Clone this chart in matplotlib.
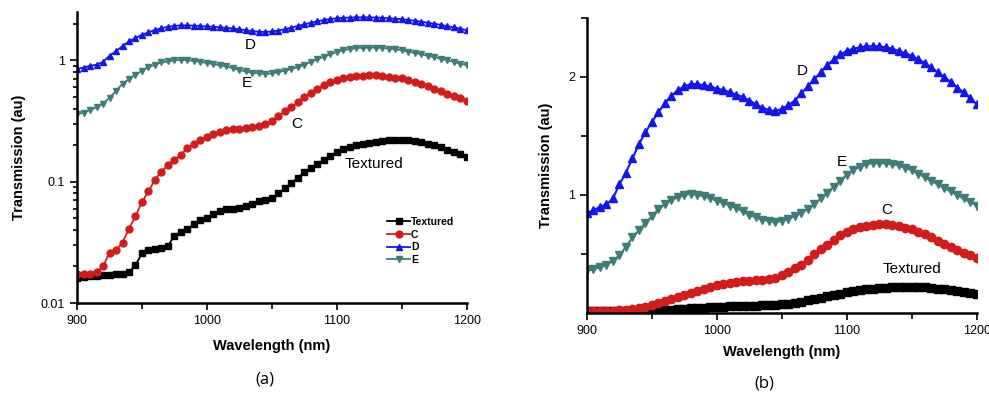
import numpy as np
import matplotlib
matplotlib.use('Agg')
import matplotlib.pyplot as plt
from matplotlib.ticker import FixedLocator, NullFormatter, LogLocator

plt.rcParams['font.family'] = ['Liberation Sans', 'DejaVu Sans']

wavelength = np.arange(900, 1201, 5)

textured = [0.0162, 0.0164, 0.0166, 0.0168, 0.0170, 0.0171, 0.0172, 0.0174, 0.0180, 0.0205,
            0.0257, 0.0273, 0.0278, 0.0282, 0.0296, 0.0360, 0.0386, 0.0405, 0.0450, 0.0485,
            0.0505, 0.0540, 0.0570, 0.0590, 0.0600, 0.0610, 0.0625, 0.0660, 0.0690, 0.0710,
            0.0730, 0.080, 0.088, 0.097, 0.108, 0.119, 0.130, 0.140, 0.151, 0.163,
            0.176, 0.185, 0.194, 0.200, 0.206, 0.210, 0.214, 0.218, 0.220, 0.222,
            0.222, 0.221, 0.217, 0.212, 0.206, 0.199, 0.192, 0.184, 0.176, 0.168,
            0.160]

sample_c = [0.0172, 0.0174, 0.0175, 0.0180, 0.0200, 0.0260, 0.0272, 0.0315, 0.041, 0.052,
            0.068, 0.083, 0.104, 0.121, 0.137, 0.152, 0.167, 0.190, 0.205, 0.221,
            0.235, 0.249, 0.258, 0.265, 0.270, 0.273, 0.277, 0.282, 0.287, 0.300,
            0.318, 0.345, 0.38, 0.41, 0.45, 0.50, 0.54, 0.58, 0.62, 0.66,
            0.69, 0.71, 0.73, 0.74, 0.745, 0.75, 0.75, 0.745, 0.735, 0.72,
            0.71, 0.69, 0.665, 0.64, 0.61, 0.585, 0.56, 0.53, 0.51, 0.49,
            0.465]

sample_d = [0.85, 0.87, 0.90, 0.92, 0.97, 1.09, 1.19, 1.31, 1.43, 1.53,
            1.62, 1.70, 1.78, 1.84, 1.89, 1.92, 1.94, 1.94, 1.93, 1.92,
            1.90, 1.89, 1.87, 1.85, 1.83, 1.80, 1.77, 1.74, 1.72, 1.71,
            1.73, 1.76, 1.80, 1.86, 1.92, 1.98, 2.04, 2.10, 2.15, 2.19,
            2.22, 2.24, 2.25, 2.26, 2.26, 2.26, 2.25, 2.24, 2.22, 2.20,
            2.18, 2.15, 2.12, 2.08, 2.04, 2.00, 1.96, 1.91, 1.87, 1.82,
            1.77]

sample_e = [0.36, 0.37, 0.39, 0.41, 0.44, 0.49, 0.56, 0.64, 0.70, 0.76,
            0.82, 0.88, 0.92, 0.96, 0.98, 1.00, 1.01, 1.00, 0.99, 0.97,
            0.95, 0.93, 0.91, 0.89, 0.86, 0.83, 0.81, 0.79, 0.78, 0.77,
            0.78, 0.80, 0.82, 0.85, 0.88, 0.92, 0.97, 1.02, 1.07, 1.12,
            1.17, 1.21, 1.24, 1.26, 1.27, 1.27, 1.27, 1.26, 1.25, 1.23,
            1.21, 1.18, 1.15, 1.12, 1.09, 1.06, 1.03, 1.00, 0.97, 0.94,
            0.91]

series = [
    ('Textured', textured, 'black', 's'),
    ('C', sample_c, '#d21c1c', 'o'),
    ('D', sample_d, '#1414f0', '^'),
    ('E', sample_e, '#3f7d79', 'v'),
]

# label positions (wavelength, value) for each panel
labels_a = {'D': (1033, 1.33), 'E': (1031, 0.646), 'C': (1069, 0.30), 'Textured': (1129, 0.139)}
labels_b = {'D': (1066, 2.05), 'E': (1096, 1.28), 'C': (1131, 0.87), 'Textured': (1150, 0.37)}

fig = plt.figure(figsize=(9.89, 4.07), dpi=100)
ax1 = fig.add_axes([0.0779, 0.2555, 0.394, 0.715])
ax2 = fig.add_axes([0.5935, 0.231, 0.394, 0.725])


def style_axes(ax, xpad):
    for side in ('top', 'right'):
        ax.spines[side].set_visible(False)
    for side in ('left', 'bottom'):
        ax.spines[side].set_linewidth(1.8)
    ax.set_xlim(900, 1200)
    ax.xaxis.set_major_locator(FixedLocator([900, 1000, 1100, 1200]))
    ax.xaxis.set_minor_locator(FixedLocator([950, 1050, 1150]))
    ax.tick_params(which='both', direction='out', width=1.2, labelsize=9)
    ax.tick_params(which='major', length=5)
    ax.tick_params(which='minor', length=4)
    ax.set_xlabel('Wavelength (nm)', fontsize=10.5, fontweight='bold', labelpad=xpad)
    ax.set_ylabel('Transmission (au)', fontsize=10.5, fontweight='bold', labelpad=11)


# (a) log scale
for name, vals, color, marker in series:
    ax1.plot(wavelength, vals, color=color, marker=marker, markersize=5, lw=1.3, label=name)
ax1.set_yscale('log')
ax1.set_ylim(0.01, 2.5)
ax1.yaxis.set_major_locator(FixedLocator([0.01, 0.1, 1]))
ax1.yaxis.set_major_formatter(plt.FixedFormatter(['0.01', '0.1', '1']))
ax1.yaxis.set_minor_locator(LogLocator(base=10, subs=np.arange(2, 10)))
ax1.yaxis.set_minor_formatter(NullFormatter())
style_axes(ax1, 9)
ax1.tick_params(axis='y', which='minor', length=3)
for name, (x, y) in labels_a.items():
    ax1.text(x, y, name, fontsize=11, ha='center', va='center')
ax1.legend(loc='upper left', bbox_to_anchor=(0.785, 0.31), frameon=False,
           handlelength=2.2, handletextpad=0.1, labelspacing=0.25, borderaxespad=0,
           prop={'weight': 'bold', 'size': 7.5})

# (b) linear scale
for name, vals, color, marker in series:
    ax2.plot(wavelength, vals, color=color, marker=marker, markersize=6, lw=1.5)
ax2.set_ylim(0, 2.5)
ax2.yaxis.set_major_locator(FixedLocator([1, 2]))
ax2.yaxis.set_minor_locator(FixedLocator([0.5, 1.5, 2.5]))
style_axes(ax2, 6)
for name, (x, y) in labels_b.items():
    ax2.text(x, y, name, fontsize=11, ha='center', va='center')

fig.text(0.268, 0.068, '(a)', fontsize=12, ha='center', va='center', family=['Open Sans', 'DejaVu Sans'])
fig.text(0.773, 0.058, '(b)', fontsize=12, ha='center', va='center', family=['Open Sans', 'DejaVu Sans'])

fig.savefig('out.png', dpi=100)
